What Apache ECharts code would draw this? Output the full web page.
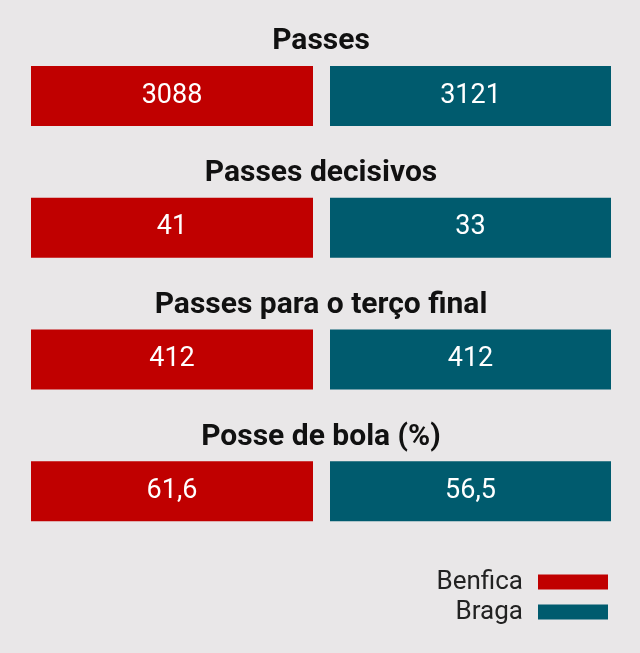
<!DOCTYPE html>
<html>
<head>
<meta charset="utf-8">
<script src="https://cdn.jsdelivr.net/npm/echarts@6/dist/echarts.min.js"></script>
<style>
  html, body { margin: 0; padding: 0; background: #e9e7e8; }
  #chart { width: 640px; height: 653px; }
</style>
</head>
<body>
<div id="chart"></div>
<script>
const metrics = ['Passes', 'Passes decisivos', 'Passes para o terço final', 'Posse de bola (%)'];
const teams = ['Benfica', 'Braga'];
const benfica = [3088, 41, 412, 61.6];
const braga = [3121, 33, 412, 56.5];
const teamColors = ['#c00000', '#005b6e'];

let chartDom = document.getElementById('chart');
let myChart = echarts.init(chartDom, null, { renderer: 'canvas' });

// every cell is the same width, the value is only shown as text
function cells(values) {
    return values.map(function (v) {
        return { value: 1, raw: String(v).replace('.', ',') };
    });
}

function valueLabel() {
    return {
        show: true,
        position: 'inside',
        color: '#ffffff',
        fontFamily: 'Roboto',
        fontSize: 27,
        formatter: function (p) { return p.data.raw; }
    };
}

let yAxisBase = {
    type: 'category',
    data: metrics,
    inverse: true,
    show: false
};
let xAxisBase = { type: 'value', min: 0, max: 1, show: false };

let option = {
    backgroundColor: '#e9e7e8',
    animation: false,
    grid: [
        { left: 31, width: 282, top: 30, height: 527 },
        { left: 330, width: 281, top: 30, height: 527 },
        { left: 31, right: 29, top: 30, height: 527 }
    ],
    xAxis: [
        Object.assign({ gridIndex: 0 }, xAxisBase),
        Object.assign({ gridIndex: 1 }, xAxisBase),
        Object.assign({ gridIndex: 2 }, xAxisBase)
    ],
    yAxis: [
        Object.assign({ gridIndex: 0 }, yAxisBase),
        Object.assign({ gridIndex: 1 }, yAxisBase),
        Object.assign({ gridIndex: 2 }, yAxisBase)
    ],
    legend: {
        data: teams,
        orient: 'vertical',
        right: 27,
        top: 564,
        align: 'right',
        icon: 'rect',
        itemWidth: 70,
        itemHeight: 15,
        itemGap: 4,
        textStyle: {
            fontFamily: 'Roboto',
            fontSize: 26,
            color: '#222222',
            padding: [0, 10, 0, 0]
        }
    },
    series: [
        {
            name: 'titles',
            type: 'bar',
            xAxisIndex: 2,
            yAxisIndex: 2,
            barWidth: 60,
            silent: true,
            itemStyle: { color: 'rgba(0,0,0,0)' },
            label: {
                show: true,
                position: 'top',
                distance: 9,
                color: '#111111',
                fontFamily: 'Roboto',
                fontWeight: 'bold',
                fontSize: 30,
                formatter: function (p) { return p.name; }
            },
            data: metrics.map(function () { return 1; })
        },
        {
            name: teams[0],
            type: 'bar',
            xAxisIndex: 0,
            yAxisIndex: 0,
            barWidth: 60,
            itemStyle: { color: teamColors[0] },
            label: valueLabel(),
            data: cells(benfica)
        },
        {
            name: teams[1],
            type: 'bar',
            xAxisIndex: 1,
            yAxisIndex: 1,
            barWidth: 60,
            itemStyle: { color: teamColors[1] },
            label: valueLabel(),
            data: cells(braga)
        }
    ]
};

option && myChart.setOption(option);
</script>
</body>
</html>
